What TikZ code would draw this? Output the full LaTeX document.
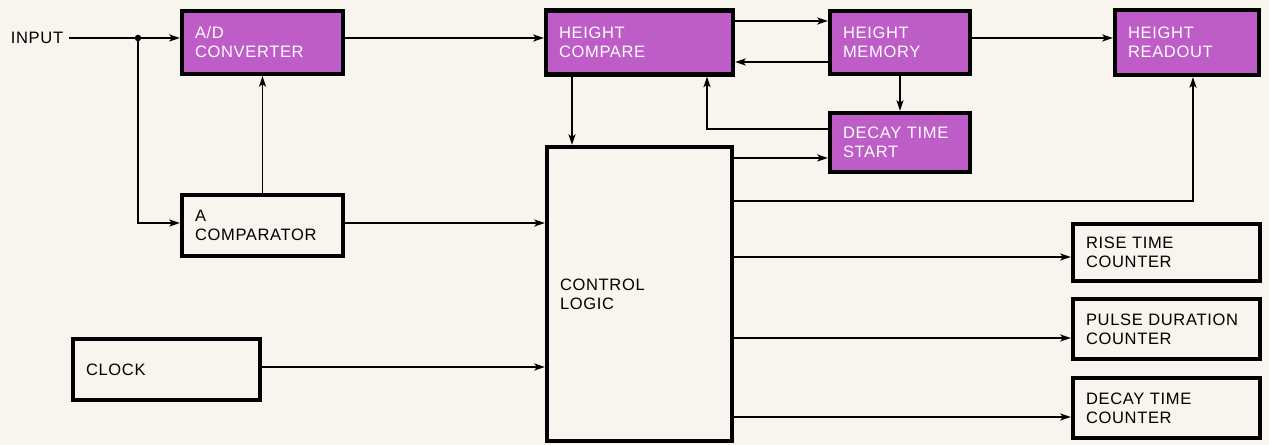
\documentclass[tikz,border=0pt]{standalone}
\usepackage{fontspec}
\setmainfont{Liberation Sans}[LetterSpace=4]
\usetikzlibrary{arrows.meta}
\definecolor{papier}{RGB}{247,245,238}
\definecolor{violetbloc}{RGB}{190,92,200}

\begin{document}
\begin{tikzpicture}[x=0.02cm,y=-0.02cm]
        \tikzstyle {block} = [rectangle, draw=black, line width=2.5pt, fill=papier, align=left, inner xsep=0.26cm, font=\fontsize{9.4}{10.8}\selectfont]
        \tikzstyle {hblock} = [block, fill=violetbloc, text=white]
        \tikzstyle {wire} = [line width=1pt, -{Stealth[length=0.21cm,width=0.14cm,inset=0.05cm]}]
        % fond
        \fill[papier] (0,0) rectangle (1269,445);
        % Entrée
        \node (input) at (37,38) [font=\fontsize{9.4}{10.8}\selectfont]{INPUT};
        \coordinate (junction) at (138,38);
        \node (converter) at (262.5,42.5) [hblock, text width=2.70cm, minimum height=1.26cm]{A/D\\CONVERTER};
        \node (comparator) at (262.5,225.5) [block, text width=2.70cm, minimum height=1.22cm]{A\\COMPARATOR};
        \node (clock) at (166.5,369.5) [block, text width=3.22cm, minimum height=1.22cm]{CLOCK};
        \draw[line width=1pt] (input.east) -- (junction);
        \fill (junction) circle[radius=0.065cm];
        \draw[wire] (junction) -- ([yshift=0.09cm]converter.west);
        \draw[wire] (junction) |- ([yshift=0.05cm]comparator.west);
        \draw[wire] (comparator.north) -- (converter.south);
        % Hauteur
        \node (height_compare) at (639.5,42.5) [hblock, text width=3.22cm, minimum height=1.28cm]{HEIGHT\\COMPARE};
        \node (height_memory) at (900,42.5) [hblock, text width=2.28cm, minimum height=1.26cm]{HEIGHT\\MEMORY};
        \node (height_readout) at (1187,42.5) [hblock, text width=2.36cm, minimum height=1.30cm]{HEIGHT\\READOUT};
        \node (decay_start) at (900,142.5) [hblock, text width=2.28cm, minimum height=1.18cm]{DECAY TIME\\START};
        \draw[wire] ([yshift=0.09cm]converter.east) -- ([yshift=0.09cm]height_compare.west);
        \draw[wire] ([yshift=0.43cm]height_compare.east) -- ([yshift=0.43cm]height_memory.west);
        \draw[wire] ([yshift=-0.39cm]height_memory.west) -- ([yshift=-0.39cm]height_compare.east);
        \draw[wire] ([yshift=0.09cm]height_memory.east) -- ([yshift=0.09cm]height_readout.west);
        \draw[wire] (height_memory.south) -- (decay_start.north);
        \draw[wire] ([yshift=0.27cm]decay_start.west) -| ([xshift=1.35cm]height_compare.south);
        % Logique
        \node (control) at (639.5,294) [block, text width=3.18cm, minimum height=5.88cm]{CONTROL\\LOGIC};
        \draw[wire] ([xshift=-1.35cm]height_compare.south) -- ([xshift=-1.35cm]control.north);
        \draw[wire] ([yshift=0.05cm]comparator.east) -- ([yshift=1.42cm]control.west);
        \draw[wire] ([yshift=0.05cm]clock.east) -- ([yshift=-1.46cm]control.west);
        \draw[wire] ([yshift=2.72cm]control.east) -- ([yshift=-0.31cm]decay_start.west);
        \draw[wire] ([yshift=1.86cm]control.east) -| ([xshift=0.12cm]height_readout.south);
        % Compteurs
        \node (rise_counter) at (1166.5,252.5) [block, text width=3.22cm, minimum height=1.14cm]{RISE TIME\\COUNTER};
        \node (pulse_counter) at (1166.5,329) [block, text width=3.22cm, minimum height=1.20cm]{PULSE DURATION\\COUNTER};
        \node (decay_counter) at (1166.5,408) [block, text width=3.22cm, minimum height=1.20cm]{DECAY TIME\\COUNTER};
        \draw[wire] ([yshift=0.74cm]control.east) -- ([yshift=-0.09cm]rise_counter.west);
        \draw[wire] ([yshift=-0.88cm]control.east) -- ([yshift=-0.18cm]pulse_counter.west);
        \draw[wire] ([yshift=-2.46cm]control.east) -- ([yshift=-0.18cm]decay_counter.west);
\end{tikzpicture}
\end{document}
